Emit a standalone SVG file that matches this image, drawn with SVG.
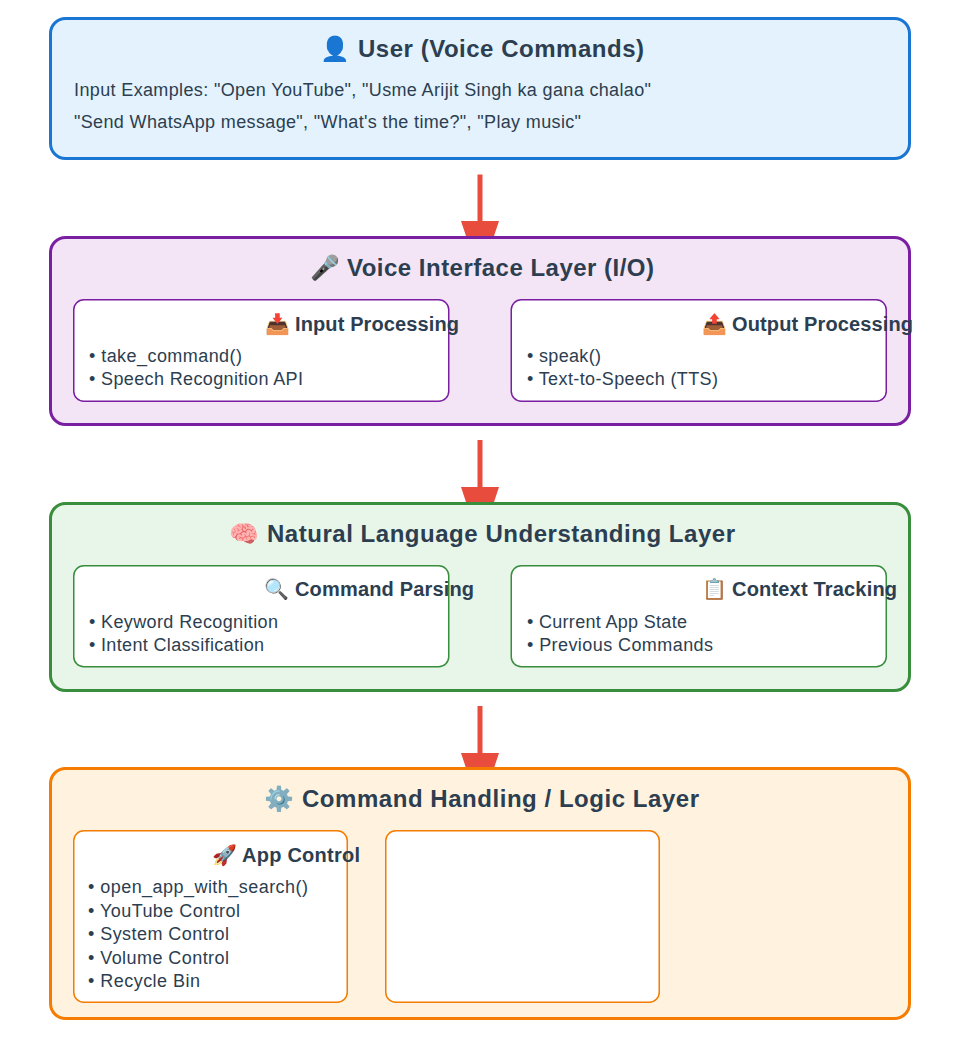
<svg xmlns="http://www.w3.org/2000/svg" width="970" height="1043" viewBox="0 0 970 1043">
<style>
text{font-family:"Liberation Sans",Arial,sans-serif;fill:#2c3e50}
.t{font-size:24px;font-weight:700}
.s{font-size:20px;font-weight:700}
.b{font-size:18px}
.o{stroke-width:3}
.i{stroke-width:1.5;fill:#fff}
.e{font-family:"Noto Color Emoji","Liberation Sans",sans-serif}
</style>
<defs>
<marker id="head" markerUnits="userSpaceOnUse" markerWidth="60" markerHeight="40" refX="0" refY="19" orient="auto"><path d="M0 0L57 19L0 38Z" fill="#e74c3c"/></marker>
</defs>
<rect width="970" height="1043" fill="#fff"/>
<g id="connectors" stroke="#e74c3c" stroke-width="5">
<line x1="480" y1="174.5" x2="480" y2="221" marker-end="url(#head)"/>
<line x1="480" y1="440" x2="480" y2="487" marker-end="url(#head)"/>
<line x1="480" y1="706" x2="480" y2="753" marker-end="url(#head)"/>
</g>
<g id="user">
<rect class="o" x="50.5" y="18.5" width="859" height="140" rx="15" fill="#e3f2fd" stroke="#1976d2"/>
<text class="t e" x="320" y="57">👤</text>
<text class="t" x="358" y="57" textLength="286">User (Voice Commands)</text>
<text class="b" x="74" y="96" textLength="577">Input Examples: "Open YouTube", "Usme Arijit Singh ka gana chalao"</text>
<text class="b" x="74" y="128" textLength="507">"Send WhatsApp message", "What's the time?", "Play music"</text>
</g>
<g id="voice">
<rect class="o" x="50.5" y="237.5" width="859" height="187" rx="15" fill="#f3e5f5" stroke="#7b1fa2"/>
<text class="t e" x="310" y="276">🎤</text>
<text class="t" x="347" y="276" textLength="307">Voice Interface Layer (I/O)</text>
<rect class="i" x="73.75" y="299.75" width="375" height="101.5" rx="10" stroke="#7b1fa2"/>
<text class="s e" x="265" y="331">📥</text>
<text class="s" x="295" y="331" textLength="164">Input Processing</text>
<text class="b" x="89" y="362" textLength="153">• take_command()</text>
<text class="b" x="89" y="385" textLength="214">• Speech Recognition API</text>
<rect class="i" x="511.25" y="299.75" width="375" height="101.5" rx="10" stroke="#7b1fa2"/>
<text class="s e" x="702" y="331">📤</text>
<text class="s" x="732" y="331" textLength="181">Output Processing</text>
<text class="b" x="527" y="362" textLength="74">• speak()</text>
<text class="b" x="527" y="385" textLength="191">• Text-to-Speech (TTS)</text>
</g>
<g id="nlu">
<rect class="o" x="50.5" y="503.5" width="859" height="187" rx="15" fill="#e8f5e9" stroke="#388e3c"/>
<text class="t e" x="229" y="542">🧠</text>
<text class="t" x="267" y="542" textLength="468">Natural Language Understanding Layer</text>
<rect class="i" x="73.75" y="565.75" width="375" height="101" rx="10" stroke="#388e3c"/>
<text class="s e" x="264" y="596">🔍</text>
<text class="s" x="295" y="596" textLength="179">Command Parsing</text>
<text class="b" x="89" y="628" textLength="189">• Keyword Recognition</text>
<text class="b" x="89" y="651" textLength="175">• Intent Classification</text>
<rect class="i" x="511.25" y="565.75" width="375" height="101" rx="10" stroke="#388e3c"/>
<text class="s e" x="702" y="596">📋</text>
<text class="s" x="732" y="596" textLength="165">Context Tracking</text>
<text class="b" x="527" y="628" textLength="160">• Current App State</text>
<text class="b" x="527" y="651" textLength="186">• Previous Commands</text>
</g>
<g id="logic">
<rect class="o" x="50.5" y="768.5" width="859" height="250" rx="15" fill="#fff3e0" stroke="#f57c00"/>
<text class="t e" x="264" y="807">⚙️</text>
<text class="t" x="302" y="807" textLength="397">Command Handling / Logic Layer</text>
<rect class="i" x="73.75" y="830.75" width="273.5" height="171.5" rx="10" stroke="#f57c00"/>
<text class="s e" x="212" y="862">🚀</text>
<text class="s" x="242" y="862" textLength="118">App Control</text>
<text class="b" x="88" y="893" textLength="220">• open_app_with_search()</text>
<text class="b" x="88" y="917" textLength="152">• YouTube Control</text>
<text class="b" x="88" y="940" textLength="141">• System Control</text>
<text class="b" x="88" y="964" textLength="141">• Volume Control</text>
<text class="b" x="88" y="987" textLength="112">• Recycle Bin</text>
<rect class="i" x="385.75" y="830.75" width="273.5" height="171.5" rx="10" stroke="#f57c00"/>
</g>
</svg>
